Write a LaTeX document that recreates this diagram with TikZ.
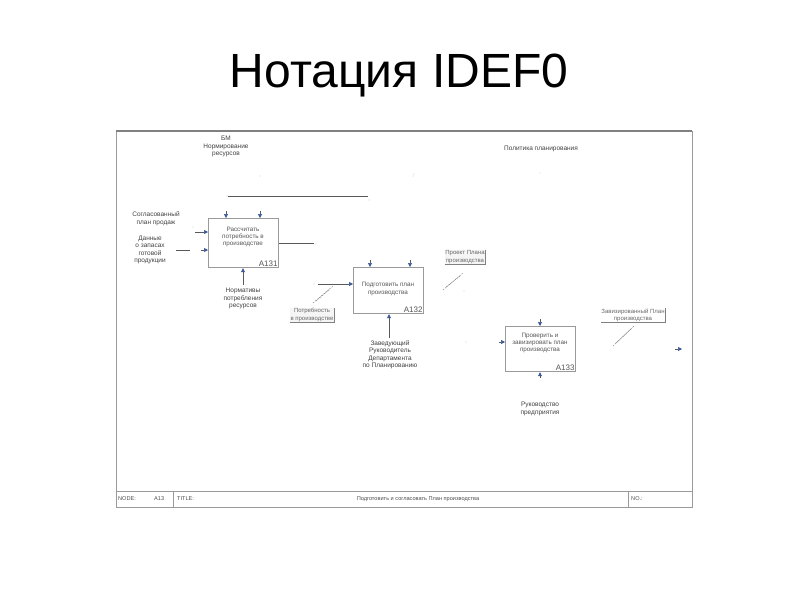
\documentclass[tikz,border=0pt]{standalone}
\usepackage{fontspec}
\setmainfont{Liberation Sans}
\usetikzlibrary{arrows.meta}
\definecolor{tipblue}{HTML}{3C5A96}
\definecolor{boxline}{HTML}{9A9A9A}
\definecolor{txt}{HTML}{555555}
\tikzset{
  fbox/.style={draw=boxline, line width=1.2pt, anchor=north west, inner sep=0pt},
  btext/.style={font=\fontsize{6.3}{7.4}\selectfont, text=txt, align=center, inner sep=0pt},
  bnum/.style={font=\fontsize{8}{9}\selectfont, text=txt, anchor=south east, inner sep=1.5pt},
  lab/.style={font=\fontsize{6.5}{7.6}\selectfont, text=black!75, align=center, inner sep=0pt},
  tlab/.style={font=\fontsize{6}{7.2}\selectfont, text=black!60, align=center, inner sep=0.5pt, fill=gray!8},
  arr/.style={draw=black!65, line width=0.7pt, -{Triangle[length=4pt,width=4pt,color=tipblue]}},
  ln/.style={draw=black!65, line width=0.7pt},
  sq/.style={draw=black!55, line width=0.4pt, dash pattern=on 1.5pt off 1.2pt},
  dot/.style={fill=black!50, inner sep=0pt, minimum size=0.8pt, circle},
  strip/.style={font=\fontsize{5.6}{6.6}\selectfont, text=black!70, inner sep=0pt, anchor=west}
}
\begin{document}
\begin{tikzpicture}[x=1pt,y=-1pt]
\useasboundingbox (0,0) rectangle (800,600);
\node[font=\fontsize{48}{52}\selectfont] (title) at (399,76) {Нотация IDEF0};

% frame
\draw[draw=boxline, line width=0.8pt] (116,131) rectangle (692,507);
\draw[draw=gray, line width=1.2pt] (116,131) -- (692,131);
\draw[draw=boxline, line width=0.8pt] (116,491) -- (692,491);
\draw[draw=boxline, line width=0.8pt] (173,491) -- (173,507);
\draw[draw=boxline, line width=0.8pt] (628,491) -- (628,507);
\node[strip] (node) at (118,499) {NODE:};
\node[strip] (nodeval) at (154,499) {A13};
\node[strip] (titlel) at (177,499) {TITLE:};
\node[font=\fontsize{5.6}{6.6}\selectfont, text=black!70, inner sep=0pt] (titleval) at (418,499) {Подготовить и согласовать План производства};
\node[strip] (no) at (631,499) {NO.:};

% boxes
\node[fbox, minimum width=70pt, minimum height=49pt] (a131) at (208,218) {};
\node[btext] at (243,237) {Рассчитать\\потребность в\\производстве};
\node[bnum] at (a131.south east) {A131};

\node[fbox, minimum width=70pt, minimum height=46pt] (a132) at (353,267) {};
\node[btext] at (388,289) {Подготовить план\\производства};
\node[bnum] at (a132.south east) {A132};

\node[fbox, minimum width=70pt, minimum height=45pt] (a133) at (505,326) {};
\node[btext] at (540,343) {Проверить и\\завизировать план\\производства};
\node[bnum] at (a133.south east) {A133};

% coordinates
\coordinate (c1s) at (226,211);
\coordinate (c2s) at (260,211);
\coordinate (i1s) at (195,232);
\coordinate (i2a) at (176,250);
\coordinate (i2b) at (190,250);
\coordinate (i2s) at (201,250);
\coordinate (o1e) at (314,243);
\coordinate (m1s) at (243,285);
\coordinate (c3s) at (370,260);
\coordinate (c4s) at (410,260);
\coordinate (i3s) at (318,284);
\coordinate (m2s) at (389,338);
\coordinate (c5s) at (540,319);
\coordinate (i4s) at (499,342);
\coordinate (m3s) at (540,378);
\coordinate (o3s) at (675,349);
\coordinate (o3e) at (682,349);
\coordinate (tl1) at (228,196);
\coordinate (tl2) at (368,196);

% arrows A131
\draw[arr] (c1s) -- (c1s |- a131.north);
\draw[arr] (c2s) -- (c2s |- a131.north);
\draw[arr] (i1s) -- (i1s -| a131.west);
\draw[ln] (i2a) -- (i2b);
\draw[arr] (i2s) -- (i2s -| a131.west);
\draw[ln] (a131.east |- o1e) -- (o1e);
\draw[arr] (m1s) -- (m1s |- a131.south);
\draw[ln] (tl1) -- (tl2);

% arrows A132
\draw[arr] (c3s) -- (c3s |- a132.north);
\draw[arr] (c4s) -- (c4s |- a132.north);
\draw[arr] (i3s) -- (i3s -| a132.west);
\draw[arr] (m2s) -- (m2s |- a132.south);

% arrows A133
\draw[arr] (c5s) -- (c5s |- a133.north);
\draw[arr] (i4s) -- (i4s -| a133.west);
\draw[arr] (m3s) -- (m3s |- a133.south);
\draw[arr] (o3s) -- (o3e);

% labels
\node[lab, anchor=north] (ltop) at (226,136) {БМ\\Нормирование\\ресурсов};
\node[lab] (lpol) at (541,149) {Политика планирования};
\node[lab] (lsogl) at (156,219) {Согласованный\\план продаж};
\node[lab] (ldata) at (150,250) {Данные\\о запасах\\готовой\\продукции};
\node[lab, anchor=north] (lnorm) at (243,288) {Нормативы\\потребления\\ресурсов};
\node[lab, anchor=north] (lzav) at (390,340) {Заведующий\\Руководитель\\Департамента\\по Планированию};
\node[lab, anchor=north] (lruk) at (540,402) {Руководство\\предприятия};

% tunnel label boxes
\node[tlab] (lpotr) at (312,315) {Потребность\\в производстве};
\draw[draw=black!50, line width=0.5pt] (lpotr.south west) -- (lpotr.south east) -- (lpotr.north east);
\node[tlab] (lproj) at (465,257) {Проект Плана\\производства};
\draw[draw=black!50, line width=0.5pt] (lproj.south west) -- (lproj.south east) -- (lproj.north east);
\node[tlab, fill=none] (lviz) at (633,315) {Завизированный План\\производства};
\draw[draw=black!50, line width=0.5pt] (lviz.south west) -- (lviz.south east) -- (lviz.north east);

% squiggles
\draw[sq] (313,303) -- (333,286);
\draw[sq] (316,301) -- (330,289);
\draw[sq] (443,290) -- (463,273);
\draw[sq] (446,287) -- (460,276);
\draw[sq] (613,346) -- (634,326);
\draw[sq] (616,343) -- (631,329);

% stray dots
\node[dot] at (260,176) {};
\node[dot] at (413,176) {};
\node[dot] at (540,173) {};
\node[dot] at (414,174) {};
\node[dot] at (369,200) {};
\node[dot] at (227,196) {};
\node[dot] at (316,244) {};
\node[dot] at (193,227) {};
\node[dot] at (464,291) {};
\node[dot] at (466,342) {};
\node[dot] at (314,284) {};
\end{tikzpicture}
\end{document}
